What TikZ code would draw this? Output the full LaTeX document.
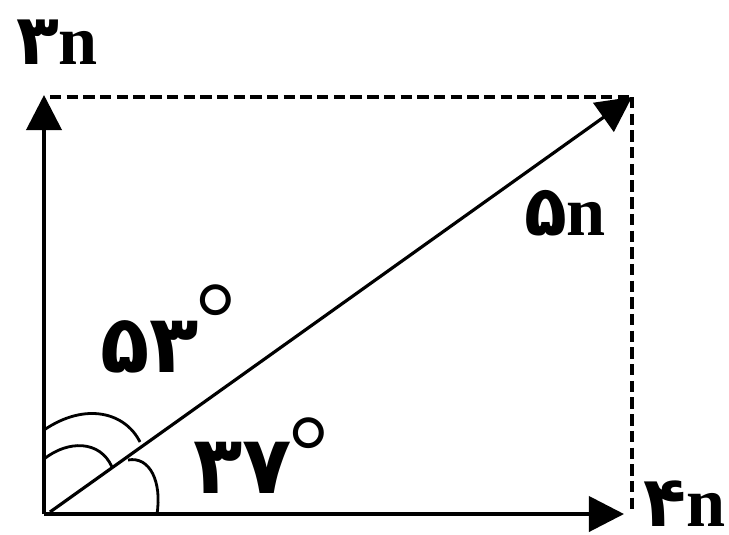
\documentclass[tikz,border=0pt]{standalone}
\usepackage{fontspec}
\usetikzlibrary{arrows.meta}
\setmainfont{Liberation Serif}
\newfontfamily\fadigits[Script=Arabic]{DejaVu Sans}
\newcommand\degmark[1]{\kern-2pt\raisebox{#1}{\fontsize{58}{58}\selectfont\mdseries °}}
\tikzset{
  vec/.style={line width=2.2pt,-{Triangle[length=20pt,width=20pt]}},
  diag/.style={line width=1.8pt,-{Triangle[length=20pt,width=20pt]}},
  proj/.style={line width=2.2pt,dash pattern=on 6.5pt off 3pt},
  angmark/.style={line width=1.6pt},
  lbl/.style={font=\fontsize{40}{40}\selectfont\bfseries,inner sep=0pt},
  anglbl/.style={font=\fontsize{46}{46}\selectfont\bfseries,inner sep=0pt,anchor=base west},
}
\begin{document}
\begin{tikzpicture}[x=0.02cm,y=-0.02cm]
  \useasboundingbox (0,0) rectangle (729,534);
  % tail and tips
  \coordinate (O) at (44,514);
  \coordinate (Fy) at (44,95);
  \coordinate (Fx) at (624,514);
  \coordinate (F) at (632,97);
  \coordinate (C) at (632,97);
  % dashed projections
  \draw[proj] (Fy) ++(6,2) -- (C);
  \draw[proj] (C) -- (632,514);
  % vectors
  \draw[vec] (O) -- (Fy);
  \draw[vec] (O) -- (Fx);
  \draw[diag] (50,512) -- (F);
  % angle marks
  \draw[angmark] (O|-0,430) .. controls (85,402) and (125,412) .. (140,442);
  \draw[angmark] (O|-0,459) .. controls (68,440) and (100,440) .. (112,467);
  \draw[angmark] (128,460) .. controls (150,456) and (162,482) .. (157,514);
  % labels
  \node[lbl] (lFy) at (57,42) {{\fadigits ۳}n};
  \node[lbl] (lF) at (565,213) {{\fadigits ۵}n};
  \node[lbl,anchor=base east] (lFx) at (726,526) {{\fadigits ۴}n};
  \node[anglbl] (a53) at (100,372) {{\fadigits ۵۳}\degmark{11pt}};
  \node[anglbl] (a37) at (193,493) {{\fadigits ۳۷}\degmark{4pt}};
\end{tikzpicture}
\end{document}
